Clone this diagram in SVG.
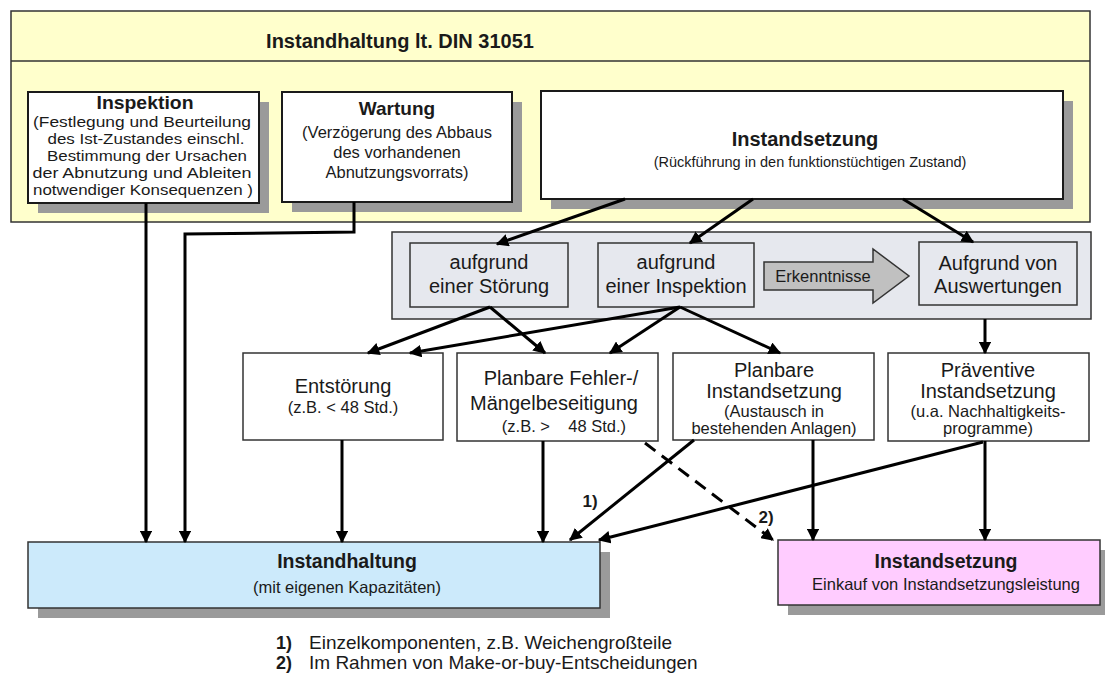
<svg xmlns="http://www.w3.org/2000/svg" width="1105" height="675" viewBox="0 0 1105 675">
  <style>
    text { font-family: "Liberation Sans", Arial, sans-serif; fill: #1a1a1a; text-anchor: middle; }
    text.left { text-anchor: start; }
    .b { font-weight: bold; }
    .shadow { fill: #9a9a9a; }
    .topbox { fill: #ffffff; stroke: #1a1a1a; stroke-width: 2; }
    .bandbox { fill: #e6e8ee; stroke: #333333; stroke-width: 1.5; }
    .rowbox { fill: #ffffff; stroke: #333333; stroke-width: 1.5; }
    .conn { fill: none; stroke: #000000; stroke-width: 3; }
    .dash { stroke-dasharray: 13 8; }
  </style>
  <defs>
    <marker id="arrow" viewBox="0 0 10 10" refX="9" refY="5" markerWidth="4.2" markerHeight="4.2" markerUnits="strokeWidth" orient="auto">
      <path d="M0,0 L10,5 L0,10 Z" fill="#000000"/>
    </marker>
  </defs>

  <!-- outer frame: Instandhaltung lt. DIN 31051 -->
  <g id="din31051">
    <rect x="11" y="11" width="1079" height="211" fill="#ffffcc" stroke="#333333" stroke-width="1.5"/>
    <line x1="11" y1="61" x2="1090" y2="61" stroke="#333333" stroke-width="1.5"/>
    <text x="400" y="48" class="b" font-size="20">Instandhaltung lt. DIN 31051</text>
  </g>

  <g id="inspektion">
    <rect class="shadow" x="38" y="102" width="231" height="111"/>
    <rect class="topbox" x="28" y="92" width="231" height="111"/>
    <text x="145" y="109" class="b" font-size="18" textLength="97" lengthAdjust="spacingAndGlyphs">Inspektion</text>
    <text x="142" y="127" font-size="15" textLength="218" lengthAdjust="spacingAndGlyphs">(Festlegung und Beurteilung</text>
    <text x="146" y="144" font-size="15" textLength="197" lengthAdjust="spacingAndGlyphs">des Ist-Zustandes einschl.</text>
    <text x="147" y="161" font-size="15" textLength="200" lengthAdjust="spacingAndGlyphs">Bestimmung der Ursachen</text>
    <text x="142" y="178" font-size="15" textLength="219" lengthAdjust="spacingAndGlyphs">der Abnutzung  und Ableiten</text>
    <text x="143" y="195" font-size="15" textLength="220" lengthAdjust="spacingAndGlyphs">notwendiger Konsequenzen )</text>
  </g>

  <g id="wartung">
    <rect class="shadow" x="292" y="102" width="230" height="110"/>
    <rect class="topbox" x="282" y="92" width="230" height="110"/>
    <text x="397" y="115" class="b" font-size="19">Wartung</text>
    <text x="397" y="138" font-size="16.5">(Verzögerung des Abbaus</text>
    <text x="397" y="158" font-size="16.5">des vorhandenen</text>
    <text x="397" y="178" font-size="16.5">Abnutzungsvorrats)</text>
  </g>

  <g id="instandsetzung-din">
    <rect class="shadow" x="551" y="101" width="522" height="108"/>
    <rect class="topbox" x="541" y="91" width="522" height="108"/>
    <text x="805" y="146" class="b" font-size="20">Instandsetzung</text>
    <text x="810" y="167" font-size="14.5">(Rückführung in den funktionstüchtigen Zustand)</text>
  </g>

  <!-- trigger band -->
  <g id="anlass">
    <rect x="392" y="232" width="699" height="87" fill="#e6e8ee" stroke="#333333" stroke-width="1.5"/>
  </g>

  <g id="stoerung">
    <rect class="bandbox" x="410" y="243" width="158" height="64"/>
    <text x="489" y="269" font-size="20">aufgrund</text>
    <text x="489" y="293" font-size="20">einer Störung</text>
  </g>

  <g id="inspektion-anlass">
    <rect class="bandbox" x="598" y="243" width="156" height="64"/>
    <text x="676" y="269" font-size="20">aufgrund</text>
    <text x="676" y="293" font-size="20">einer Inspektion</text>
  </g>

  <g id="erkenntnisse">
    <path d="M764,262 L873,262 L873,249 L909,276 L873,303 L873,290 L764,290 Z" fill="#c0c0c0" stroke="#333333" stroke-width="1.5"/>
    <text x="823" y="282" font-size="16.5">Erkenntnisse</text>
  </g>

  <g id="auswertungen">
    <rect class="bandbox" x="919" y="242" width="158" height="63"/>
    <text x="998" y="270" font-size="20">Aufgrund von</text>
    <text x="998" y="293" font-size="20">Auswertungen</text>
  </g>

  <!-- measures -->
  <g id="entstoerung">
    <rect class="rowbox" x="243" y="353" width="200" height="87"/>
    <text x="343" y="393" font-size="20">Entstörung</text>
    <text x="343" y="413" font-size="16.5">(z.B. &lt; 48 Std.)</text>
  </g>

  <g id="maengelbeseitigung">
    <rect class="rowbox" x="457" y="353" width="201" height="88"/>
    <text x="561" y="385" font-size="20">Planbare Fehler-/</text>
    <text x="554" y="410" font-size="20">Mängelbeseitigung</text>
    <text x="564" y="432" font-size="16.5" style="white-space:pre">(z.B. &gt;    48 Std.)</text>
  </g>

  <g id="planbare-instandsetzung">
    <rect class="rowbox" x="673" y="353" width="201" height="87"/>
    <text x="774" y="377" font-size="20">Planbare</text>
    <text x="774" y="398" font-size="20">Instandsetzung</text>
    <text x="774" y="417" font-size="16.5">(Austausch in</text>
    <text x="774" y="434" font-size="16.5">bestehenden Anlagen)</text>
  </g>

  <g id="praeventiv">
    <rect class="rowbox" x="888" y="353" width="201" height="88"/>
    <text x="988" y="377" font-size="20">Präventive</text>
    <text x="988" y="398" font-size="20">Instandsetzung</text>
    <text x="988" y="417" font-size="16.5">(u.a. Nachhaltigkeits-</text>
    <text x="988" y="434" font-size="16.5">programme)</text>
  </g>

  <!-- execution -->
  <g id="eigene-kapazitaeten">
    <rect class="shadow" x="38" y="552" width="572" height="66"/>
    <rect x="28" y="542" width="572" height="66" fill="#cceafb" stroke="#333333" stroke-width="1.5"/>
    <text x="347" y="568" class="b" font-size="19.5">Instandhaltung</text>
    <text x="347" y="593" font-size="16.5">(mit eigenen Kapazitäten)</text>
  </g>

  <g id="einkauf">
    <rect class="shadow" x="788" y="550" width="317" height="65"/>
    <rect x="778" y="540" width="322" height="65" fill="#ffccff" stroke="#333333" stroke-width="1.5"/>
    <text x="946" y="568" class="b" font-size="19.5">Instandsetzung</text>
    <text x="946" y="590" font-size="16.5">Einkauf von Instandsetzungsleistung</text>
  </g>

  <!-- connectors -->
  <g id="connectors">
    <line class="conn" x1="146" y1="203" x2="146" y2="542" marker-end="url(#arrow)"/>
    <polyline class="conn" points="354,202 354,232 185,234 185,542" marker-end="url(#arrow)"/>
    <line class="conn" x1="625" y1="199" x2="497" y2="244" marker-end="url(#arrow)"/>
    <line class="conn" x1="753" y1="199" x2="690" y2="243" marker-end="url(#arrow)"/>
    <line class="conn" x1="903" y1="199" x2="973" y2="242" marker-end="url(#arrow)"/>
    <line class="conn" x1="490" y1="307" x2="368" y2="353" marker-end="url(#arrow)"/>
    <line class="conn" x1="490" y1="307" x2="545" y2="353" marker-end="url(#arrow)"/>
    <line class="conn" x1="680" y1="307" x2="410" y2="353" marker-end="url(#arrow)"/>
    <line class="conn" x1="680" y1="307" x2="610" y2="353" marker-end="url(#arrow)"/>
    <line class="conn" x1="680" y1="307" x2="780" y2="353" marker-end="url(#arrow)"/>
    <line class="conn" x1="985" y1="319" x2="985" y2="353" marker-end="url(#arrow)"/>
    <line class="conn" x1="342" y1="440" x2="342" y2="542" marker-end="url(#arrow)"/>
    <line class="conn" x1="543" y1="441" x2="543" y2="542" marker-end="url(#arrow)"/>
    <line class="conn" x1="694" y1="440" x2="570" y2="540" marker-end="url(#arrow)"/>
    <line class="conn" x1="983" y1="442" x2="599" y2="540" marker-end="url(#arrow)"/>
    <line class="conn" x1="813" y1="440" x2="813" y2="540" marker-end="url(#arrow)"/>
    <line class="conn" x1="985" y1="441" x2="985" y2="540" marker-end="url(#arrow)"/>
    <line class="conn dash" x1="645" y1="443" x2="773" y2="540" marker-end="url(#arrow)"/>
    <text x="590" y="507" class="b" font-size="17">1)</text>
    <text x="766" y="523" class="b" font-size="17">2)</text>
  </g>

  <!-- footnotes -->
  <g id="fussnoten">
    <text x="276" y="649" class="left b" font-size="18">1)</text>
    <text x="309" y="649" class="left" font-size="19">Einzelkomponenten, z.B. Weichengroßteile</text>
    <text x="276" y="669" class="left b" font-size="18">2)</text>
    <text x="309" y="669" class="left" font-size="19">Im Rahmen von Make-or-buy-Entscheidungen</text>
  </g>
</svg>
